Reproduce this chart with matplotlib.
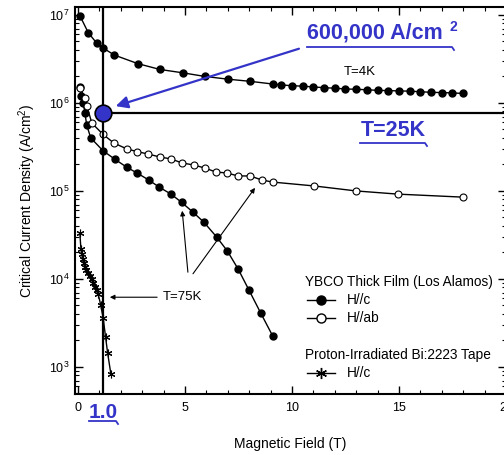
import matplotlib.pyplot as plt
from matplotlib.lines import Line2D
from matplotlib.ticker import MultipleLocator

plt.rcParams['font.family'] = ['Liberation Sans', 'DejaVu Sans']
plt.rcParams['mathtext.fontset'] = 'custom'
plt.rcParams['mathtext.rm'] = 'Liberation Sans'
plt.rcParams['mathtext.it'] = 'Liberation Sans'

# YBCO thick film, T=4K, H//c
field_4k = [0.1, 0.48, 0.87, 1.18, 1.7, 2.79, 3.83, 4.89, 5.93, 7.02, 8.04, 9.1,
            9.5, 10, 10.5, 11, 11.5, 12, 12.5, 13, 13.5, 14, 14.5, 15, 15.5, 16,
            16.5, 17, 17.5, 18]
jc_4k = [9.7e6, 6.3e6, 4.8e6, 4.2e6, 3.5e6, 2.8e6, 2.4e6, 2.2e6, 2.0e6, 1.86e6,
         1.76e6, 1.64e6, 1.60e6, 1.57e6, 1.55e6, 1.52e6, 1.49e6, 1.47e6, 1.44e6,
         1.43e6, 1.41e6, 1.39e6, 1.38e6, 1.37e6, 1.36e6, 1.34e6, 1.32e6, 1.31e6,
         1.30e6, 1.28e6]

# YBCO thick film, T=75K, H//c
field_c = [0.09, 0.14, 0.25, 0.33, 0.41, 0.6, 1.18, 1.73, 2.28, 2.78, 3.31, 3.81,
           4.35, 4.85, 5.39, 5.89, 6.48, 6.98, 7.49, 8.0, 8.54, 9.1]
jc_c = [1.5e6, 1.2e6, 9.9e5, 7.6e5, 5.6e5, 4.0e5, 2.85e5, 2.29e5, 1.86e5, 1.59e5,
        1.33e5, 1.10e5, 9.2e4, 7.4e4, 5.7e4, 4.4e4, 3.0e4, 2.08e4, 1.29e4, 7.4e3,
        4.1e3, 2.25e3]

# YBCO thick film, T=75K, H//ab
field_ab = [0.09, 0.33, 0.42, 0.65, 1.17, 1.68, 2.29, 2.76, 3.27, 3.83, 4.35, 4.86,
            5.42, 5.93, 6.45, 6.96, 7.48, 8.04, 8.6, 9.11, 11.03, 13.0, 14.95, 18.0]
jc_ab = [1.48e6, 1.14e6, 9.2e5, 5.9e5, 4.4e5, 3.5e5, 3.0e5, 2.8e5, 2.63e5, 2.43e5,
         2.31e5, 2.08e5, 1.97e5, 1.82e5, 1.64e5, 1.60e5, 1.48e5, 1.48e5, 1.33e5,
         1.26e5, 1.14e5, 1.0e5, 9.2e4, 8.5e4]

# proton-irradiated Bi:2223 tape, T=75K, H//c
field_bi = [0.09, 0.14, 0.18, 0.22, 0.27, 0.33, 0.4, 0.48, 0.56, 0.64, 0.72, 0.79,
            0.87, 0.95, 1.06, 1.18, 1.29, 1.39, 1.54]
jc_bi = [3.3e4, 2.2e4, 1.9e4, 1.67e4, 1.5e4, 1.38e4, 1.27e4, 1.16e4, 1.07e4, 9.9e3,
         9.0e3, 8.1e3, 7.4e3, 6.7e3, 5.1e3, 3.6e3, 2.2e3, 1.43e3, 8.3e2]

# marked operating point
point_field = 1.18
point_jc = 7.7e5

blue = '#3434c8'
W, H = 504, 455


def fx(px):
    return px / W


def fy(py):
    return 1 - py / H


fig = plt.figure(figsize=(5.04, 4.55), dpi=100)
ax = fig.add_axes([fx(74.5), fy(394), (506 - 74.5) / W, (394 - 7) / H])

ax.set_yscale('log')
ax.set_xlim(-0.16, 20)
ax.set_ylim(493, 1.23e7)

ax.plot(field_4k, jc_4k, '-o', color='black', lw=1, ms=5)
ax.plot(field_c, jc_c, '-o', color='black', lw=1, ms=5)
ax.plot(field_ab, jc_ab, '-o', color='black', mfc='white', lw=1, ms=5, mew=0.8)
ax.plot(field_bi, jc_bi, '-', color='black', lw=1, marker=(6, 2, 0), ms=5.5, mew=0.8)

# guide lines through the operating point
ax.axvline(point_field, color='black', lw=1.6)
ax.hlines(point_jc, point_field, 21, color='black', lw=1.6)
ax.plot([point_field], [point_jc], 'o', ms=12, mfc=blue, mec='black', mew=1.2, zorder=5)

# annotations
ax.text(12.4, 2.25e6, 'T=4K', fontsize=9.5, va='center')
ax.annotate('', xy=(1.36, 6.2e3), xytext=(3.83, 6.2e3),
            arrowprops=dict(arrowstyle='-|>', color='black', lw=0.8, mutation_scale=7))
ax.text(3.97, 6.2e3, 'T=75K', fontsize=9.5, va='center')
ax.annotate('', xy=(4.86, 6.4e4), xytext=(5.15, 1.11e4),
            arrowprops=dict(arrowstyle='-|>', color='black', lw=0.8, mutation_scale=7))
ax.annotate('', xy=(8.35, 1.15e5), xytext=(5.3, 1.08e4),
            arrowprops=dict(arrowstyle='-|>', color='black', lw=0.8, mutation_scale=7))
ax.annotate('', xy=(1.64, 9.0e5), xytext=(10.45, 4.22e6),
            arrowprops=dict(arrowstyle='-|>', color=blue, lw=1.6, mutation_scale=18))

ax.tick_params(which='both', direction='in', top=True, right=True, labelsize=9)
ax.tick_params(which='major', length=6, width=1)
ax.tick_params(which='minor', length=3, width=0.8)
ax.tick_params(axis='x', pad=6)
ax.xaxis.set_major_locator(MultipleLocator(5))
ax.xaxis.set_minor_locator(MultipleLocator(1))
for s in ax.spines.values():
    s.set_linewidth(1.5)

ax.set_xlabel('Magnetic Field (T)', fontsize=10, labelpad=16)
ax.set_ylabel('Critical Current Density (A/cm$^2$)', fontsize=10, labelpad=8)

# blue callouts
fig.text(fx(307), fy(33), '600,000 A/cm', color=blue, fontsize=15.5,
         fontweight='bold', va='center')
fig.text(fx(450), fy(27), '2', color=blue, fontsize=10, fontweight='bold', va='center')
fig.text(fx(393), fy(131), 'T=25K', color=blue, fontsize=15.5,
         fontweight='bold', va='center', ha='center')
fig.text(fx(103), fy(412), '1.0', color=blue, fontsize=15, fontweight='bold',
         va='center', ha='center')
for x0, x1, y in [(307, 452, 47), (360, 425, 143), (89, 116, 421)]:
    fig.add_artist(Line2D([fx(x0), fx(x1), fx(x1 + 2)], [fy(y), fy(y), fy(y + 3)],
                          color=blue, lw=1.3))

# legend block
fig.text(fx(305), fy(282), 'YBCO Thick Film (Los Alamos)', fontsize=9.8, va='center')
fig.add_artist(Line2D([fx(307), fx(335)], [fy(300), fy(300)], color='black', lw=1))
fig.add_artist(Line2D([fx(321)], [fy(300)], marker='o', ms=6.5, color='black'))
fig.text(fx(347), fy(300), 'H//c', fontsize=9.8, va='center')
fig.add_artist(Line2D([fx(307), fx(335)], [fy(318), fy(318)], color='black', lw=1))
fig.add_artist(Line2D([fx(321)], [fy(318)], marker='o', ms=6.5, color='black', mfc='white'))
fig.text(fx(347), fy(318), 'H//ab', fontsize=9.8, va='center')
fig.text(fx(305), fy(355), 'Proton-Irradiated Bi:2223 Tape', fontsize=9.8, va='center')
fig.add_artist(Line2D([fx(307), fx(335)], [fy(373), fy(373)], color='black', lw=1))
fig.add_artist(Line2D([fx(321)], [fy(373)], marker=(6, 2, 0), ms=8, color='black'))
fig.text(fx(347), fy(373), 'H//c', fontsize=9.8, va='center')

fig.savefig('out.png', dpi=100)
